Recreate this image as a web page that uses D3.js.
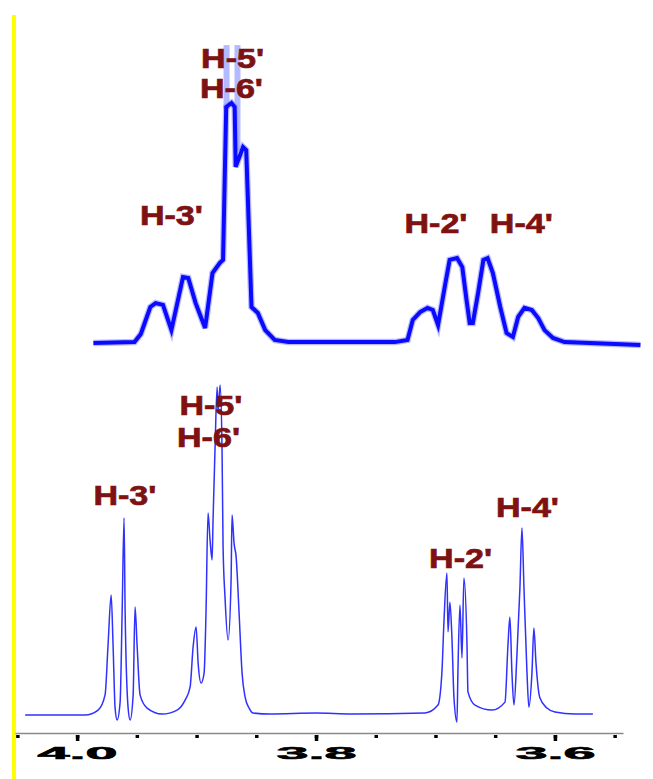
<!DOCTYPE html>
<html>
<head>
<meta charset="utf-8">
<script src="https://cdn.jsdelivr.net/npm/d3@7"></script>
<style>
  body { margin: 0; background: #fff; }
  svg { display: block; }
  .lbl { font-family: "Liberation Sans", Arial, sans-serif; font-weight: bold; font-size: 27px; fill: #7e1212; stroke: #7e1212; stroke-width: 0.7px; }
  .tick text { font-family: "Liberation Sans", Arial, sans-serif; font-weight: bold; font-size: 17px; fill: #000; stroke: #000; stroke-width: 0.6px; }
</style>
</head>
<body>
<svg id="chart" width="653" height="779"></svg>
<script>
// top trace (broadened spectrum), ppm on its own scale
var topPpm = [4.011, 3.972, 3.966, 3.957, 3.952, 3.945, 3.937, 3.926, 3.921, 3.914, 3.905,
    3.898, 3.891, 3.888, 3.885, 3.880, 3.877, 3.876, 3.869, 3.866, 3.861, 3.855, 3.848,
    3.839, 3.826, 3.725, 3.713, 3.708, 3.701, 3.694, 3.689, 3.684, 3.677, 3.673, 3.666,
    3.661, 3.657, 3.654, 3.651, 3.646, 3.641, 3.637, 3.632, 3.625, 3.619, 3.613, 3.608,
    3.602, 3.595, 3.589, 3.583, 3.575, 3.564, 3.492];
var topInt = [0, 0.3, 3, 12, 13.3, 12.7, 4.3, 22, 21.7, 13.3, 5,
    23.3, 26.7, 27.7, 78.7, 80, 78.7, 58.7, 65.3, 64.3, 12, 10, 4.3,
    1, 0.3, 0.3, 1, 7.7, 10.3, 11.7, 11, 6, 20, 27.7, 28.3,
    25.3, 14.3, 6.7, 6.7, 16.7, 27.7, 28.3, 23.3, 12, 3.3, 2, 8.7,
    11.7, 11, 8.3, 4.3, 1.7, 0.3, -0.7];
// faint overshoot lines above the top H-5'/H-6' peak
var spikePpm = [3.8847, 3.8743];
var spikeLow = [78, 64];
var spikeHigh = [99.3, 99.3];

// bottom trace (resolved spectrum)
var botPpm = [4.0435, 3.9933, 3.9824, 3.9766, 3.9741, 3.9715, 3.9699, 3.9682, 3.9665, 3.9640,
    3.9623, 3.9607, 3.9598, 3.9573, 3.9556, 3.9531, 3.9515, 3.9498, 3.9473, 3.9414,
    3.9289, 3.9163, 3.9096, 3.9054, 3.9029, 3.9004, 3.8987, 3.8962, 3.8937, 3.8921,
    3.8904, 3.8887, 3.8870, 3.8862, 3.8845, 3.8828, 3.8820, 3.8803, 3.8787, 3.8778,
    3.8762, 3.8736, 3.8711, 3.8703, 3.8686, 3.8669, 3.8644, 3.8619, 3.8594, 3.8560,
    3.8527, 3.8385, 3.80, 3.77, 3.7088, 3.6979, 3.6946, 3.6929, 3.6904, 3.6895,
    3.6879, 3.6862, 3.6845, 3.6820, 3.6812, 3.6795, 3.6778, 3.6762, 3.6736, 3.6728,
    3.6669, 3.6527, 3.6418, 3.6393, 3.6377, 3.6360, 3.6343, 3.6318, 3.6293, 3.6276,
    3.6259, 3.6234, 3.6218, 3.6192, 3.6176, 3.6159, 3.6126, 3.6067, 3.6000, 3.5833, 3.5682];
var botInt = [0, 0, 1.5, 6.1, 21.2, 36.4, 21.2, 2.1, -1.5, 3.9,
    31.2, 59.7, 31.2, 2.1, -1.5, 6.1, 32.7, 21.2, 6.1, 2.1,
    0.3, 1.5, 4.5, 8.5, 20.6, 26.7, 15.8, 9.7, 12.7, 30.9,
    61.2, 53, 47, 59.1, 81.2, 99.4, 91.5, 100, 81.2, 50.9,
    35.8, 22.7, 40.9, 60.6, 52, 48, 30.9, 12.7, 5.5, 2.1,
    0.6, 0.3, 0.6, 0.3, 0.6, 3, 13, 28.2, 43, 25.2,
    34.2, 23.3, 5.2, -2.1, 13, 33.3, 17.3, 41.5, 21.2, 7,
    3, 1.5, 3.9, 21.2, 29.7, 13, 3, 18.2, 38.5, 56.7,
    38.5, 13, 2.4, 13, 26.4, 16.1, 5.2, 2.1, 0.9, 0.3, 0.3];

// peak assignments
var labelNames = ["H-5'", "H-6'", "H-3'", "H-2'", "H-4'"];
var topLabelPpm = [3.879, 3.880, 3.937, 3.686, 3.605];
var topLabelInt = [91.7, 81.7, 39.3, 36.7, 36.7];
var botLabelPpm = [3.888, 3.890, 3.960, 3.679, 3.623];
var botLabelInt = [90.9, 81.2, 63.6, 44.5, 60];

// axis ticks
var minorTicks = [4.05, 4.0, 3.95, 3.9, 3.85, 3.8, 3.75, 3.7, 3.65, 3.6, 3.55];
var majorTicks = [4.0, 3.8, 3.6];

var svg = d3.select("#chart");

var xTop = d3.scaleLinear().domain([4.0, 3.5]).range([105, 632]);
var yTop = d3.scaleLinear().domain([0, 100]).range([343, 43]);
var xBot = d3.scaleLinear().domain([4.052, 3.543]).range([15, 623]);
var yBot = d3.scaleLinear().domain([0, 100]).range([715, 385]);

// yellow bar at the left edge
svg.append("line")
    .attr("x1", 14).attr("x2", 14)
    .attr("y1", 15).attr("y2", 779)
    .attr("stroke", "#ffff00")
    .attr("stroke-width", 4);

// top spectrum
var topData = topPpm.map(function(p, i) { return [p, topInt[i]]; });
var lineTop = d3.line()
    .x(function(d) { return xTop(d[0]); })
    .y(function(d) { return yTop(d[1]); });

svg.selectAll(".spike")
    .data(spikePpm)
    .enter().append("line")
    .attr("class", "spike")
    .attr("x1", function(d) { return xTop(d); })
    .attr("x2", function(d) { return xTop(d); })
    .attr("y1", function(d, i) { return yTop(spikeLow[i]); })
    .attr("y2", function(d, i) { return yTop(spikeHigh[i]); })
    .attr("stroke", "#b3baff")
    .attr("stroke-width", 6);

svg.append("path")
    .datum(topData)
    .attr("d", lineTop)
    .attr("fill", "none")
    .attr("stroke", "#8c8cff")
    .attr("stroke-width", 6.5)
    .attr("stroke-opacity", 0.6);

svg.append("path")
    .datum(topData)
    .attr("d", lineTop)
    .attr("fill", "none")
    .attr("stroke", "#0a0aff")
    .attr("stroke-width", 4);

// bottom spectrum
var botData = botPpm.map(function(p, i) { return [p, botInt[i]]; });
var lineBot = d3.line()
    .curve(d3.curveMonotoneX)
    .x(function(d) { return xBot(d[0]); })
    .y(function(d) { return yBot(d[1]); });

svg.append("path")
    .datum(botData)
    .attr("d", lineBot)
    .attr("fill", "none")
    .attr("stroke", "#3030ff")
    .attr("stroke-width", 1.5);

// labels
svg.selectAll(".lblTop")
    .data(labelNames)
    .enter().append("text")
    .attr("class", "lbl lblTop")
    .attr("x", function(d, i) { return xTop(topLabelPpm[i]); })
    .attr("y", function(d, i) { return yTop(topLabelInt[i]); })
    .attr("text-anchor", "middle")
    .attr("textLength", 63)
    .attr("lengthAdjust", "spacingAndGlyphs")
    .text(function(d) { return d; });

svg.selectAll(".lblBot")
    .data(labelNames)
    .enter().append("text")
    .attr("class", "lbl lblBot")
    .attr("x", function(d, i) { return xBot(botLabelPpm[i]); })
    .attr("y", function(d, i) { return yBot(botLabelInt[i]); })
    .attr("text-anchor", "middle")
    .attr("textLength", 63)
    .attr("lengthAdjust", "spacingAndGlyphs")
    .text(function(d) { return d; });

// ppm axis
var axisY = 733;
var gMinor = svg.append("g")
    .attr("transform", "translate(0," + axisY + ")")
    .call(d3.axisBottom(xBot).tickValues(minorTicks).tickSize(5).tickSizeOuter(0).tickFormat(""));
gMinor.select(".domain").attr("stroke", "#8a8a8a").attr("stroke-width", 1.5);
gMinor.selectAll(".tick line").attr("stroke", "#000").attr("stroke-width", 3.5)
    .attr("y1", 2);

var gMajor = svg.append("g")
    .attr("transform", "translate(0," + axisY + ")")
    .call(d3.axisBottom(xBot).tickValues(majorTicks).tickSize(8).tickSizeOuter(0)
        .tickFormat(d3.format(".1f")));
gMajor.select(".domain").remove();
gMajor.selectAll(".tick line").attr("stroke", "#000").attr("stroke-width", 3.5)
    .attr("y1", 2);
gMajor.selectAll(".tick text")
    .attr("y", 26)
    .attr("dy", 0)
    .attr("textLength", 80)
    .attr("lengthAdjust", "spacingAndGlyphs");
</script>
</body>
</html>
